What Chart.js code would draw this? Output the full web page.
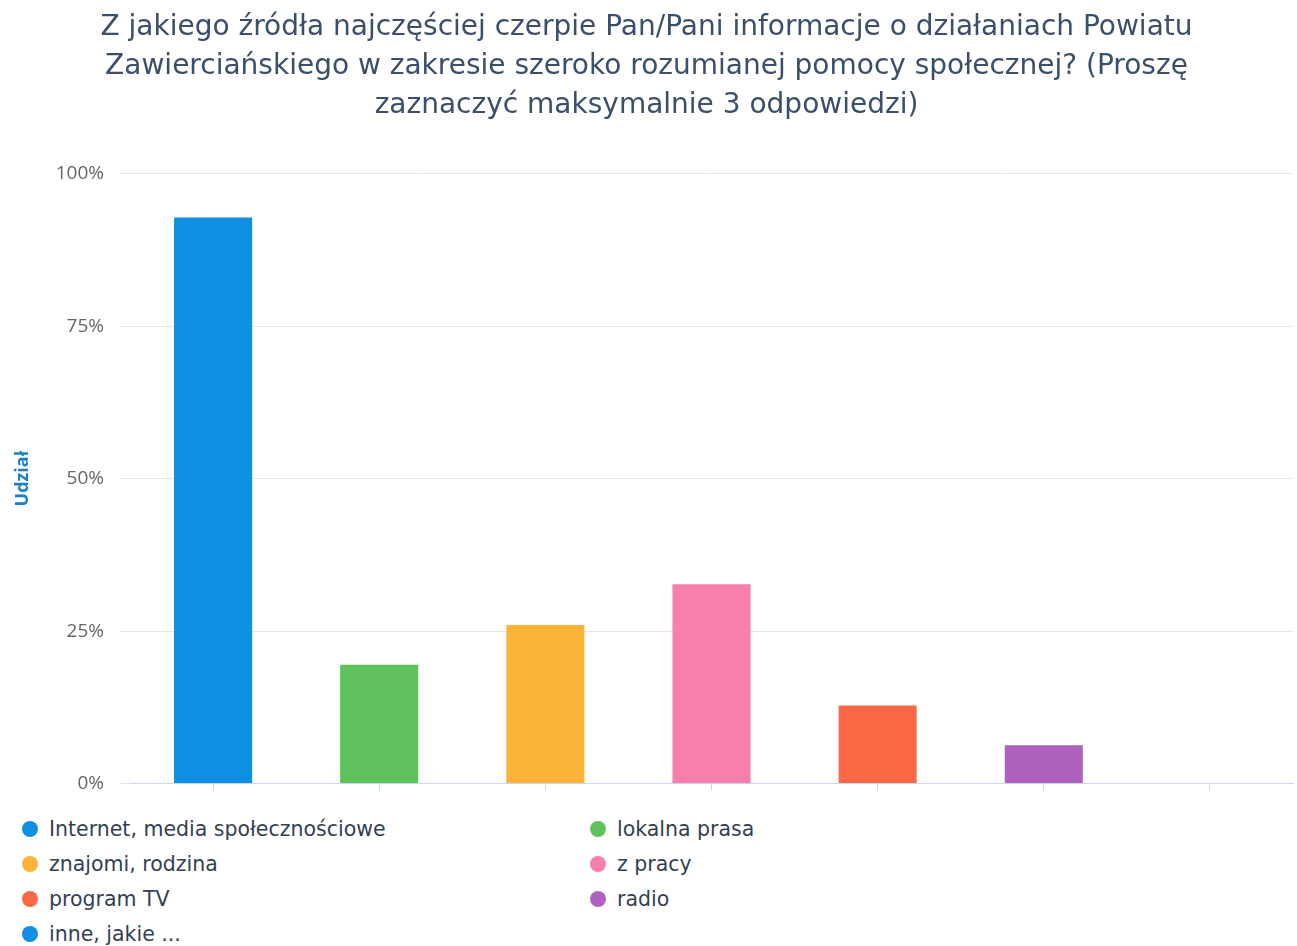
<!DOCTYPE html>
<html>
<head>
<meta charset="utf-8">
<script src="https://cdn.jsdelivr.net/npm/chart.js@4"></script>
<style>
  body { margin: 0; background: #fff; }
  #wrap { position: relative; width: 1297px; height: 946px; }
  #chart { position: absolute; left: 0; top: 0; }
  #legend { position: absolute; left: 0; top: 812px; width: 1297px; font-family: "DejaVu Sans", sans-serif; font-size: 20.5px; color: #333f52; }
  .item { position: absolute; height: 34px; line-height: 34px; white-space: nowrap; }
  .dot { display: inline-block; width: 16px; height: 16px; border-radius: 50%; margin-right: 11px; vertical-align: -1px; }
</style>
</head>
<body>
<div id="wrap">
  <canvas id="chart" width="1297" height="811"></canvas>
  <div id="legend"></div>
</div>
<script>
const titleLines = [
  'Z jakiego źródła najczęściej czerpie Pan/Pani informacje o działaniach Powiatu',
  'Zawierciańskiego w zakresie szeroko rozumianej pomocy społecznej? (Proszę',
  'zaznaczyć maksymalnie 3 odpowiedzi)'
];
const categories = [
  'Internet, media społecznościowe',
  'lokalna prasa',
  'znajomi, rodzina',
  'z pracy',
  'program TV',
  'radio',
  'inne, jakie ...'
];
const shares = [92.8, 19.5, 26.0, 32.7, 12.8, 6.3, 0];
const barColors = ['#0e8fe2', '#5fc15b', '#fbb33a', '#f77fab', '#fb6845', '#ae62be', '#0e8fe2'];
const yTicks = [0, 25, 50, 75, 100];

const ctx = document.getElementById('chart').getContext('2d');
new Chart(ctx, {
  type: 'bar',
  data: {
    labels: categories,
    datasets: [{
      label: 'Udział',
      data: shares,
      backgroundColor: barColors,
      categoryPercentage: 1,
      barPercentage: 0.47
    }]
  },
  options: {
    responsive: false,
    animation: false,
    layout: { padding: { right: 4, bottom: 0 } },
    plugins: {
      legend: { display: false },
      tooltip: { enabled: false },
      title: {
        display: true,
        text: titleLines,
        color: '#3b4f6a',
        font: { family: 'DejaVu Sans', size: 28, weight: 'normal', lineHeight: 1.4 },
        padding: { top: 8, bottom: 48 }
      }
    },
    scales: {
      x: {
        grid: { drawOnChartArea: false, drawTicks: true, tickLength: 7, offset: false, color: '#ccd6eb' },
        border: { color: '#ccd6eb' },
        ticks: { display: false }
      },
      y: {
        min: 0,
        max: 100,
        afterBuildTicks: (scale) => { scale.ticks = yTicks.map(v => ({ value: v })); },
        afterFit: (scale) => { scale.width = 130; },
        grid: { color: '#e6e6e6', tickLength: 10 },
        border: { display: false },
        ticks: {
          color: '#666',
          padding: 16,
          font: { family: 'Open Sans', size: 19 },
          callback: (v) => v + '%'
        },
        title: {
          display: true,
          text: 'Udział',
          color: '#1a7fc8',
          font: { family: 'Open Sans', size: 18, weight: 'bold' },
          padding: { top: 12, bottom: 0 }
        }
      }
    }
  }
});

// legend in two columns, rows in data order
const legend = document.getElementById('legend');
categories.forEach((name, i) => {
  const el = document.createElement('div');
  el.className = 'item';
  el.style.left = (i % 2 === 0 ? 22 : 590) + 'px';
  el.style.top = (Math.floor(i / 2) * 35) + 'px';
  el.innerHTML = '<span class="dot" style="background:' + barColors[i] + '"></span>' + name;
  legend.appendChild(el);
});
</script>
</body>
</html>
